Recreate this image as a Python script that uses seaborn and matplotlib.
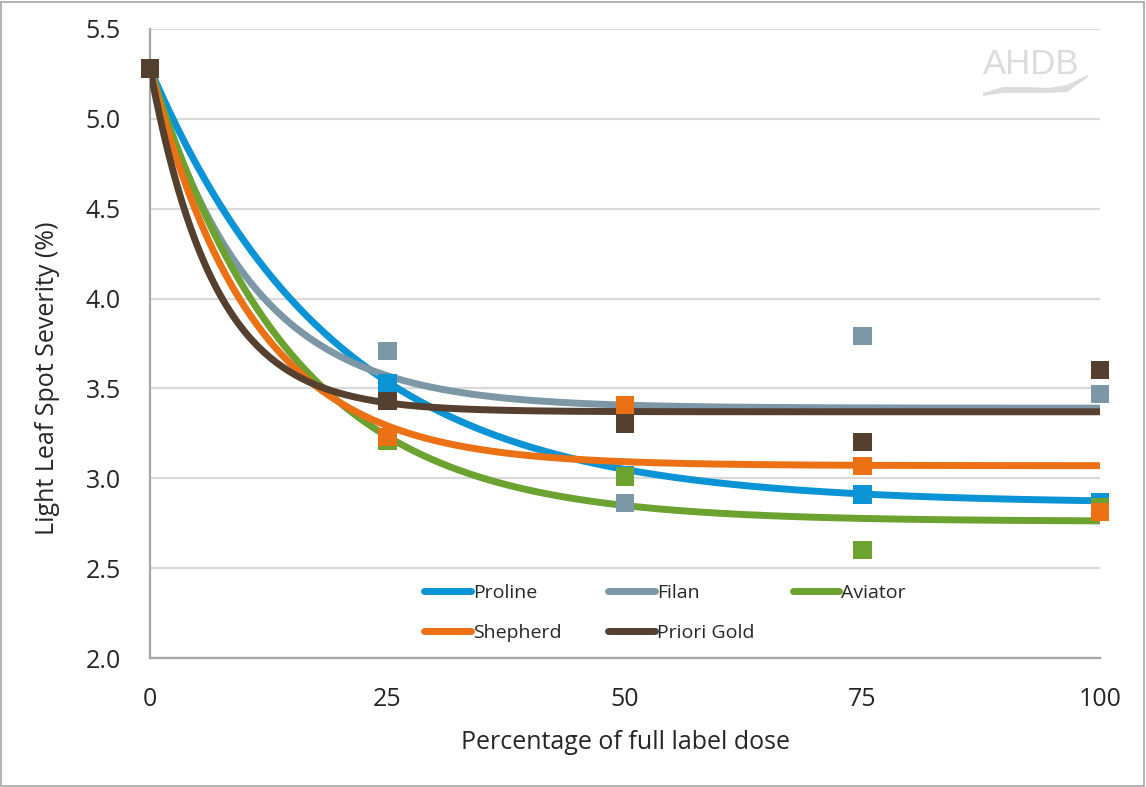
import numpy as np
import pandas as pd
import seaborn as sns
import matplotlib.pyplot as plt
from matplotlib.lines import Line2D
from matplotlib.legend import Legend
from matplotlib.patches import Rectangle, Polygon

# dados
produtos = ['Proline', 'Filan', 'Aviator', 'Shepherd', 'Priori Gold']
cores = ['#0A94D6', '#7C98A6', '#6CA22F', '#EC7014', '#553F2F']
doses = [0, 25, 50, 75, 100]

proline = [5.28, 3.53, 3.02, 2.91, 2.87]
filan = [5.28, 3.71, 2.86, 3.79, 3.47]
aviator = [5.28, 3.21, 3.01, 2.60, 2.84]
shepherd = [5.28, 3.23, 3.41, 3.07, 2.81]
priori_gold = [5.28, 3.43, 3.30, 3.20, 3.60]

# parametros das curvas de tendencia (assintota, amplitude, taxa)
assintota = [2.86, 3.39, 2.76, 3.07, 3.37]
amplitude = [2.42, 1.89, 2.52, 2.21, 1.91]
taxa = [0.051, 0.094, 0.067, 0.092, 0.146]

valores = [proline, filan, aviator, shepherd, priori_gold]
df = pd.DataFrame({
    'produto': np.repeat(produtos, len(doses)),
    'dose': doses * len(produtos),
    'severidade': np.concatenate(valores),
})

x_fino = np.linspace(0, 100, 301)
curvas = []
for p, a, b, k in zip(produtos, assintota, amplitude, taxa):
    curvas.append(pd.DataFrame({'produto': p, 'dose': x_fino,
                                'severidade': a + b * np.exp(-k * x_fino)}))
df_curvas = pd.concat(curvas, ignore_index=True)

paleta = dict(zip(produtos, cores))

sns.set_style('white')
plt.rcParams['font.family'] = ['Open Sans', 'DejaVu Sans']

fig = plt.figure(figsize=(11.46, 7.87), dpi=100)
ax = fig.add_axes([0.1309, 0.1639, 0.829, 0.7993])

sns.lineplot(data=df_curvas, x='dose', y='severidade', hue='produto',
             hue_order=produtos, palette=paleta, linewidth=5, legend=False,
             ax=ax, zorder=3)
sns.scatterplot(data=df, x='dose', y='severidade', hue='produto',
                hue_order=produtos, palette=paleta, marker='s', s=170,
                linewidth=0, legend=False, ax=ax, zorder=4, clip_on=False)

ax.set_xlim(0, 100)
ax.set_ylim(2.0, 5.5)
ax.set_xticks(doses)
ax.set_yticks(np.arange(2.0, 5.51, 0.5))
ax.set_yticklabels([f'{v:.1f}' for v in np.arange(2.0, 5.51, 0.5)])
ax.yaxis.grid(True, color='#D9D9D9', linewidth=1.6)
ax.set_axisbelow(True)
for lado in ['top', 'right']:
    ax.spines[lado].set_visible(False)
for lado in ['left', 'bottom']:
    ax.spines[lado].set_color('#A6A6A6')
    ax.spines[lado].set_linewidth(1.6)
ax.tick_params(axis='x', length=6, width=1.6, color='#A6A6A6', labelsize=18, pad=15)
ax.tick_params(axis='y', length=6, width=1.6, color='#A6A6A6', labelsize=18, pad=15)
ax.set_xlabel('Percentage of full label dose', fontsize=18)
ax.set_ylabel('Light Leaf Spot Severity (%)', fontsize=18)
ax.xaxis.set_label_coords(0.5, -0.115)
ax.xaxis.label.set_va('top')
ax.yaxis.set_label_coords(-0.095, 0.444)

# legenda: tres colunas igualmente espacadas
colunas = [['Proline', 'Shepherd'], ['Filan', 'Priori Gold'], ['Aviator']]
pos_x = [0.270, 0.464, 0.658]
for nomes, px in zip(colunas, pos_x):
    hs = [Line2D([0], [0], color=paleta[p], linewidth=5, solid_capstyle='round') for p in nomes]
    leg = Legend(ax, hs, nomes, frameon=False, fontsize=14, loc='upper left',
                 bbox_to_anchor=(px, 0.145), handlelength=2.4,
                 handletextpad=0.1, labelspacing=1.1)
    ax.add_artist(leg)

# logo AHDB
fig.text(1031 / 1146, 1 - 65 / 787, 'AHDB', fontsize=25, color='#DCDCDC', ha='center',
         va='center', family='Liberation Sans')
topo = [(983, 93), (1003, 87), (1027, 87), (1047, 88), (1067, 85), (1088, 75)]
base = [(1088, 77), (1067, 92), (1047, 93), (1027, 93), (1003, 93), (983, 96)]
fig.add_artist(Polygon([(x / 1146, 1 - y / 787) for x, y in topo + base], closed=True,
                       facecolor='#DCDCDC', edgecolor='none', transform=fig.transFigure))

fig.add_artist(Rectangle((0.001, 0.001), 0.997, 0.997, fill=False,
                         edgecolor='#A6A6A6', linewidth=1.2, transform=fig.transFigure))

plt.savefig('out.png', dpi=100)
